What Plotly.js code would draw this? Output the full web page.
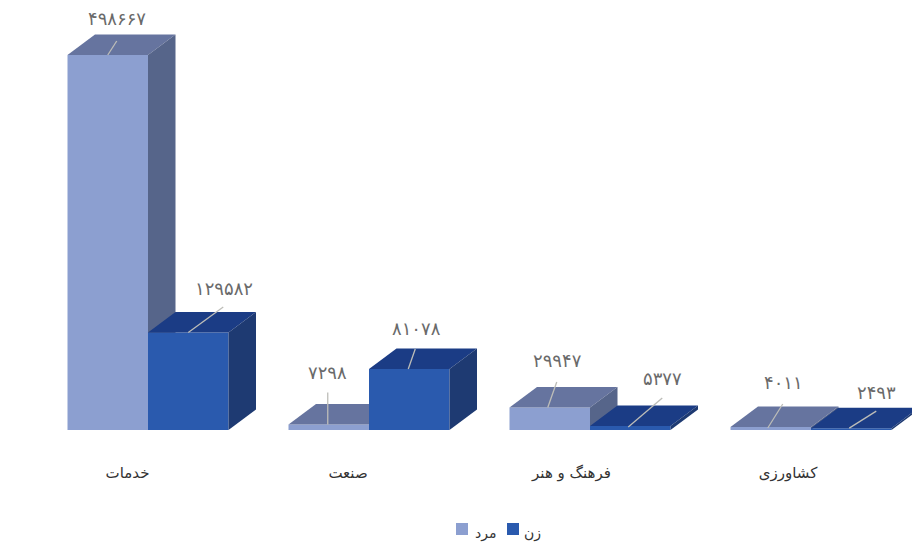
<!DOCTYPE html>
<html><head><meta charset="utf-8">
<script src="https://cdn.plot.ly/plotly-3.0.1.min.js"></script>
<style>html,body{margin:0;padding:0;background:#fff;overflow:hidden}
.annotation:not([data-index="0"]):not([data-index="8"]):not([data-index="9"]) text{letter-spacing:1.7px}
</style>
</head><body><div id="chart" style="width:912px;height:544px"></div>
<script>
const categories = ['خدمات', 'صنعت', 'فرهنگ و هنر', 'کشاورزی'];
const menName = 'مرد';
const womenName = 'زن';
const men = [498667, 7298, 29947, 4011];
const women = [129582, 81078, 5377, 2493];

// px offsets from each bar's front-top centre: leader end + label centre
const menLeader = [[9,-14,9,-37],[-1,-32,-1,-52.5],[7,-25.5,8,-46.5],[12,-23,13,-44]];
const menLeaderStart = [[0,0],[-1,0],[-2,0],[-3,1]];
const womenLeader = [[35,-25.5,36,-44.5],[6,-20,7,-41],[32,-28,32,-47],[25,-17,25,-36]];
const womenLeaderStart = [[0,0],[-1,0],[-2,1],[-2,0]];
const tickShift = [-20.5, -21, -18.5, -23];

const W = 912, H = 544, plotH = 462;
const pxPerCat = 221, x0px = 148, y0px = 430, pxPerVal = 375 / 498667;
const xr = [(0 - x0px) / pxPerCat, (W - x0px) / pxPerCat];
const yr = [(y0px - plotH) / pxPerVal, y0px / pxPerVal];
const bw = 80.5 / pxPerCat, dx = 27.5 / pxPerCat, dy = 20.5 / pxPerVal;
const ux = p => p / pxPerCat, uy = p => p / pxPerVal;
const pyToPaper = py => (plotH - py) / plotH;

const fa = n => String(n).replace(/\d/g, d => '۰۱۲۳۴۵۶۷۸۹'[d]);

function poly(x, y, color, xa, ya) {
  return {type:'scatter', mode:'lines', x, y, fill:'toself', fillcolor:color,
    line:{width:0, color}, hoverinfo:'skip', showlegend:false, xaxis:xa, yaxis:ya};
}
function series(vals, name, offset, front, top, side, xa, ya) {
  const out = [{type:'bar', name, x:categories.map((_, i) => i), y:vals, offset, width:bw,
    marker:{color:front, line:{width:0}}, showlegend:false, xaxis:xa, yaxis:ya}];
  vals.forEach((v, i) => {
    const l = i + offset, r = l + bw;
    out.push(poly([l, l+dx, r+dx, r, l], [v, v+dy, v+dy, v, v], top, xa, ya));
    out.push(poly([r, r+dx, r+dx, r, r], [v, v+dy, dy, 0, v], side, xa, ya));
  });
  return out;
}
function leaders(vals, offset, starts, ends) {
  return vals.map((v, i) => {
    const cx = i + offset + bw / 2;
    return {type:'scatter', mode:'lines', hoverinfo:'skip', showlegend:false, xaxis:'x2', yaxis:'y2',
      x:[cx + ux(starts[i][0]), cx + ux(ends[i][0])],
      y:[v - uy(starts[i][1]), v - uy(ends[i][1])],
      line:{color:'#bdbdb8', width:1.3}};
  });
}
function labels(vals, offset, ends) {
  return vals.map((v, i) => ({
    x: i + offset + bw / 2 + ux(ends[i][2]), y: v - uy(ends[i][3]), xref:'x2', yref:'y2',
    text: fa(v), showarrow:false, xanchor:'center', yanchor:'middle',
    font:{family:'DejaVu Sans', size:18, color:'#6a6a6a'}
  }));
}

const traces = [
  ...series(men, menName, -bw, '#8c9fd0', '#66749f', '#56658a', 'x', 'y'),
  ...series(women, womenName, 0, '#2a5aae', '#1b3c85', '#1e3a72', 'x2', 'y2'),
  ...leaders(men, -bw, menLeaderStart, menLeader),
  ...leaders(women, 0, womenLeaderStart, womenLeader)
];

const legendText = (text, x) => ({xref:'paper', yref:'paper', x:x/W, y:pyToPaper(533), xanchor:'left', yanchor:'middle',
  text, showarrow:false, font:{family:'DejaVu Sans', size:14, color:'#333'}});
const swatch = (x, color) => ({type:'rect', xref:'paper', yref:'paper', x0:x/W, x1:(x+12)/W,
  y0:pyToPaper(535), y1:pyToPaper(523), fillcolor:color, line:{width:0}});

const hiddenAxis = {visible:false, showgrid:false, zeroline:false, fixedrange:true};
const layout = {
  width:W, height:H, margin:{l:0, r:0, t:0, b:H-plotH}, paper_bgcolor:'#fff', plot_bgcolor:'#fff',
  showlegend:false, barmode:'overlay', hovermode:false,
  xaxis:{range:xr, tickmode:'array', tickvals:categories.map((_, i) => i + tickShift[i]/pxPerCat), ticktext:categories,
    showgrid:false, zeroline:false, showline:false, ticks:'', fixedrange:true,
    tickfont:{family:'DejaVu Sans', size:15, color:'#333'}},
  yaxis:{range:yr, showgrid:false, zeroline:false, showline:false, showticklabels:false, ticks:'', fixedrange:true},
  xaxis2:{...hiddenAxis, range:xr, overlaying:'x', anchor:'y2'},
  yaxis2:{...hiddenAxis, range:yr, overlaying:'y', anchor:'x2'},
  annotations:[...labels(men, -bw, menLeader), ...labels(women, 0, womenLeader),
    legendText(menName, 473), legendText(womenName, 522)],
  shapes:[swatch(456, '#8c9fd0'), swatch(507, '#2a5aae')]
};
Plotly.newPlot('chart', traces, layout, {displayModeBar:false, staticPlot:true});
</script></body></html>
